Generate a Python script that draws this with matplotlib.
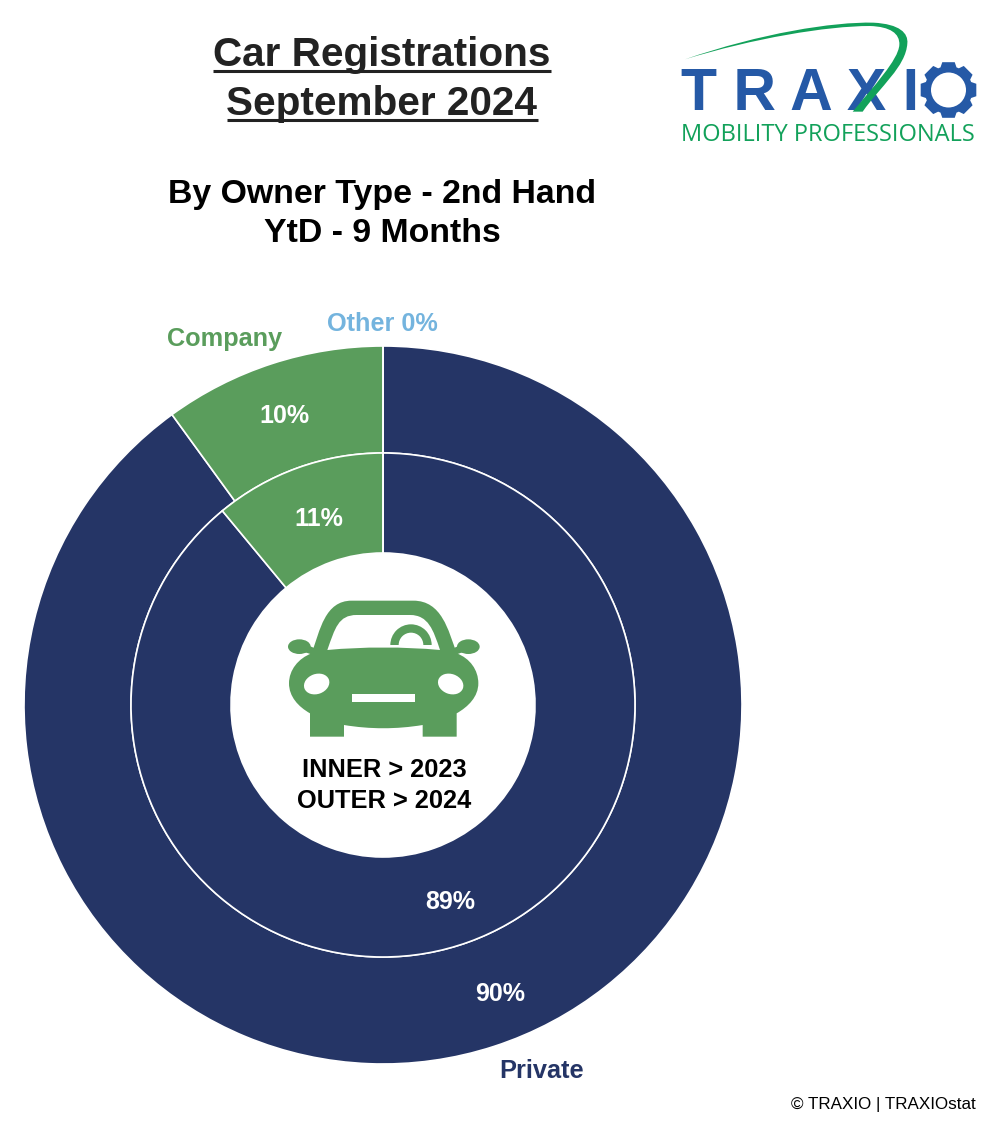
import numpy as np
import matplotlib
matplotlib.use("Agg")
import matplotlib.pyplot as plt
from matplotlib.patches import Ellipse, PathPatch, Polygon, Circle, Rectangle, Wedge
from matplotlib.path import Path
from matplotlib.transforms import Affine2D

plt.rcParams['font.family'] = ['Liberation Sans', 'DejaVu Sans']

# Data
categories = ['Private', 'Company', 'Other']
values_2024 = [90, 10, 0]   # outer ring
values_2023 = [89, 11, 0]   # inner ring

NAVY = '#253566'
GREEN = '#5a9d5c'
LIGHT_BLUE = '#74b4de'
colors = [NAVY, GREEN, LIGHT_BLUE]
LOGO_BLUE = '#2559a6'
LOGO_GREEN = '#12a15a'

W, H = 1000, 1137
fig = plt.figure(figsize=(W / 100, H / 100), dpi=100)

# Donut axes, centre (383, 705) and outer radius 359 in pixels
cx, cy, R = 383, 705, 359
ax = fig.add_axes([(cx - R) / W, 1 - (cy + R) / H, 2 * R / W, 2 * R / H])
r_mid = 252 / R
r_hole = 152 / R
props = dict(edgecolor='white', linewidth=1.2, clip_on=False)
ax.pie(values_2024, radius=1, colors=colors, startangle=90, counterclock=False,
       wedgeprops=dict(width=1 - r_mid, **props))
ax.pie(values_2023, radius=r_mid, colors=colors, startangle=90, counterclock=False,
       wedgeprops=dict(width=r_mid - r_hole, **props))
ax.set_xlim(-1, 1)
ax.set_ylim(-1, 1)

# Overlay in pixel coordinates for the text, car and logo
ov = fig.add_axes([0, 0, 1, 1])
ov.set_xlim(0, W)
ov.set_ylim(H, 0)
ov.axis('off')
ov.patch.set_alpha(0)


def label(x, y, s, size, color='black', weight='bold', ha='center', va='center', **kw):
    return ov.text(x, y, s, fontsize=size, color=color, fontweight=weight,
                   ha=ha, va=va, **kw)


# Titles
label(382, 55, 'Car Registrations', 29.2, color='#222222')
label(382, 104, 'September 2024', 29.2, color='#222222')
ov.plot([213, 551], [71, 71], color='#222222', lw=2.2, solid_capstyle='butt')
ov.plot([227, 538], [120, 120], color='#222222', lw=2.2, solid_capstyle='butt')
label(382, 195, 'By Owner Type - 2nd Hand', 24.4)
label(382, 234, 'YtD - 9 Months', 24.4)

# Slice labels
label(225, 339, categories[1], 18.2, color=GREEN)
label(382, 324, f'{categories[2]} {values_2024[2]}%', 18.2, color=LIGHT_BLUE)
label(542, 1071, categories[0], 18.3, color=NAVY)
label(284, 416, f'{values_2024[1]}%', 18, color='white')
label(319, 519, f'{values_2023[1]}%', 18, color='white')
label(450, 902, f'{values_2023[0]}%', 18, color='white')
label(500, 994, f'{values_2024[0]}%', 18, color='white')

label(384, 770, 'INNER > 2023', 18.3)
label(384, 801, 'OUTER > 2024', 18.3)
label(976, 1105, '© TRAXIO | TRAXIOstat', 12.25, weight='normal', ha='right')

# Car icon, drawn in the 3x crop coordinates
car = Affine2D().scale(1 / 3).translate(270, 590) + ov.transData
MV, LN, C4, CL = Path.MOVETO, Path.LINETO, Path.CURVE4, Path.CLOSEPOLY
body = Path(
    [(125, 190), (85, 205), (57, 240), (57, 280), (57, 320), (85, 350), (120, 370),
     (120, 440), (222, 440), (222, 405), (300, 418), (380, 418), (458, 405),
     (458, 440), (560, 440), (560, 370), (595, 350), (625, 320), (625, 280),
     (625, 240), (600, 205), (560, 190), (535, 120), (515, 32), (430, 32),
     (245, 32), (165, 32), (150, 120), (125, 190), (125, 190)],
    [MV, C4, C4, C4, C4, C4, C4, LN, LN, LN, C4, C4, C4,
     LN, LN, LN, C4, C4, C4, C4, C4, C4, C4, C4, C4,
     LN, C4, C4, C4, CL])
ov.add_patch(PathPatch(body, fc=GREEN, ec='none', transform=car))
ov.add_patch(Ellipse((88, 170), 68, 44, fc=GREEN, ec='none', transform=car))
ov.add_patch(Ellipse((595, 170), 68, 44, fc=GREEN, ec='none', transform=car))
ov.add_patch(Polygon([(100, 160), (135, 175), (130, 195), (100, 185)], fc=GREEN, ec='none', transform=car))
ov.add_patch(Polygon([(582, 160), (550, 175), (555, 195), (582, 185)], fc=GREEN, ec='none', transform=car))
glass = Path(
    [(172, 180), (195, 115), (205, 75), (260, 75), (420, 75), (475, 75), (490, 120),
     (510, 180), (400, 170), (280, 170), (172, 180), (172, 180)],
    [MV, C4, C4, C4, LN, C4, C4, C4, C4, C4, C4, CL])
ov.add_patch(PathPatch(glass, fc='white', ec='none', transform=car))
ov.add_patch(Wedge((423, 165), 62, 180, 360, width=25, fc=GREEN, ec='none', transform=car))
ov.add_patch(Ellipse((140, 282), 78, 60, angle=-20, fc='white', ec='none', transform=car))
ov.add_patch(Ellipse((542, 282), 78, 60, angle=20, fc='white', ec='none', transform=car))
ov.add_patch(Rectangle((247, 311), 188, 24, fc='white', ec='none', transform=car))

# Logo
label(681, 110, 'T R A X I', 42.5, color=LOGO_BLUE, ha='left', va='baseline')
gx, gy = 948.5, 90
teeth = 8
pts = []
for k in range(teeth):
    a = 2 * np.pi * k / teeth - np.pi / 2
    for da, rad in [(-0.34, 24), (-0.22, 28.5), (0.22, 28.5), (0.34, 24)]:
        pts.append((gx + rad * np.cos(a + da), gy + rad * np.sin(a + da)))
ov.add_patch(Polygon(pts, closed=True, fc=LOGO_BLUE, ec='none'))
ov.add_patch(Circle((gx, gy), 17.5, fc='white', ec='none'))

logo = Affine2D().scale(1 / 3).translate(660, 10) + ov.transData
swoosh = Path(
    [(75, 148), (300, 70), (520, 35), (640, 38), (720, 42), (745, 70), (742, 100),
     (738, 170), (660, 230), (608, 305), (578, 305), (640, 230), (715, 150), (718, 105),
     (720, 70), (690, 50), (630, 48), (500, 48), (280, 85), (75, 148), (75, 148)],
    [MV, C4, C4, C4, C4, C4, C4, C4, C4, C4, LN, C4, C4, C4, C4, C4, C4,
     C4, C4, C4, CL])
ov.add_patch(PathPatch(swoosh, fc=LOGO_GREEN, ec='none', transform=logo, zorder=5))
ov.text(828, 135, 'MOBILITY PROFESSIONALS', fontsize=17, color=LOGO_GREEN,
        family=['Open Sans', 'DejaVu Sans'], ha='center', va='center')

fig.savefig('out.png', dpi=100)
